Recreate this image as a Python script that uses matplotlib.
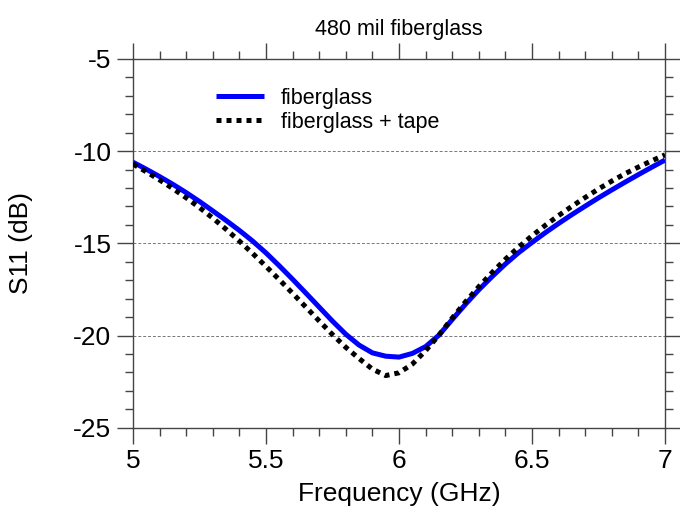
import numpy as np
import matplotlib
matplotlib.use("Agg")
import matplotlib.pyplot as plt
from matplotlib.ticker import MultipleLocator

plt.rcParams['font.family'] = ['Liberation Sans', 'DejaVu Sans']

# frequency (GHz)
freq = [5.00, 5.05, 5.10, 5.15, 5.20, 5.25, 5.30, 5.35, 5.40, 5.45,
        5.50, 5.55, 5.60, 5.65, 5.70, 5.75, 5.80, 5.85, 5.90, 5.95,
        6.00, 6.05, 6.10, 6.15, 6.20, 6.25, 6.30, 6.35, 6.40, 6.45,
        6.50, 6.55, 6.60, 6.65, 6.70, 6.75, 6.80, 6.85, 6.90, 6.95, 7.00]

# S11 (dB), bare fiberglass
s11_fiberglass = [-10.60, -10.98, -11.38, -11.80, -12.25, -12.73, -13.24, -13.76, -14.30, -14.88,
                  -15.52, -16.22, -16.95, -17.70, -18.46, -19.22, -19.93, -20.52, -20.94, -21.12,
                  -21.17, -20.97, -20.60, -19.98, -19.13, -18.30, -17.52, -16.80, -16.12, -15.50,
                  -14.95, -14.42, -13.92, -13.44, -12.98, -12.53, -12.10, -11.68, -11.27, -10.87, -10.48]

# S11 (dB), fiberglass with tape
s11_tape = [-10.70, -11.12, -11.56, -12.03, -12.53, -13.06, -13.63, -14.24, -14.88, -15.55,
            -16.25, -16.97, -17.71, -18.46, -19.21, -19.95, -20.64, -21.25, -21.82, -22.17,
            -22.02, -21.55, -20.82, -19.98, -19.05, -18.17, -17.35, -16.58, -15.86, -15.20,
            -14.59, -14.02, -13.49, -12.99, -12.51, -12.05, -11.62, -11.22, -10.86, -10.52, -10.20]

fig = plt.figure(figsize=(6.8, 5.12), dpi=100)
ax = fig.add_axes([0.1956, 0.1646, 0.7824, 0.7202])

ax.plot(freq, s11_fiberglass, color='#0000ff', lw=3.6, label='fiberglass',
        solid_capstyle='butt', solid_joinstyle='round', zorder=3)
ax.plot(freq, s11_tape, color='black', lw=3.6, ls=(0, (1, 1)), label='fiberglass + tape',
        dash_capstyle='butt', zorder=4)

ax.set_xlim(5, 7)
ax.set_ylim(-25, -5)
ax.xaxis.set_major_locator(MultipleLocator(0.5))
ax.xaxis.set_minor_locator(MultipleLocator(0.1))
ax.yaxis.set_major_locator(MultipleLocator(5))
ax.yaxis.set_minor_locator(MultipleLocator(1))
ax.xaxis.set_major_formatter(plt.FuncFormatter(lambda v, p: f'{v:g}'))
ax.yaxis.set_major_formatter(plt.FuncFormatter(lambda v, p: f'{v:g}'))

ax.tick_params(which='both', direction='out', top=True, right=True,
               color='#444444', width=1.0, labelsize=19)
ax.tick_params(which='major', length=11.5, pad=4)
ax.tick_params(which='minor', length=5.8)
for s in ax.spines.values():
    s.set_color('#444444')
    s.set_linewidth(1.0)

ax.grid(axis='y', which='major', color='#777777', lw=0.7, ls=(0, (3, 2)))

ax.set_xlabel('Frequency (GHz)', fontsize=19, labelpad=6)
ax.set_ylabel('S11 (dB)', fontsize=19, labelpad=29)
ax.set_title('480 mil fiberglass', fontsize=15.5, pad=17)

ax.legend(loc='upper left', bbox_to_anchor=(0.12, 0.975), frameon=False,
          fontsize=15.5, handlelength=2.2, handletextpad=0.8, labelspacing=0.15)

fig.savefig('out.png', dpi=100)
